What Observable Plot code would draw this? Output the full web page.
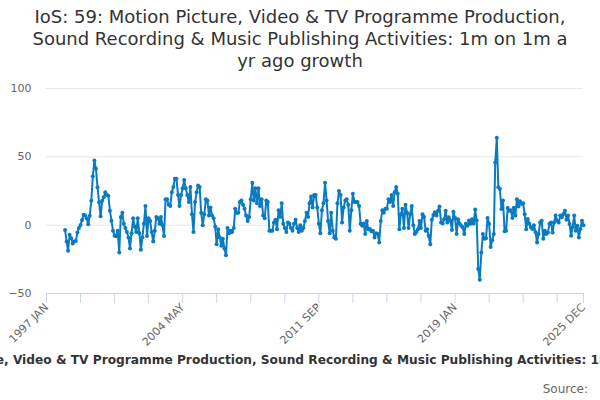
<!DOCTYPE html>
<html>
<head>
<meta charset="utf-8">
<script src="https://cdn.jsdelivr.net/npm/d3@7"></script>
<script src="https://cdn.jsdelivr.net/npm/@observablehq/plot@0.6"></script>
<style>
  body { margin: 0; overflow: hidden; background: #fff; font-family: "DejaVu Sans", sans-serif; }
  #wrap { position: relative; width: 600px; height: 400px; overflow: hidden; }
  #title { position: absolute; top: 6px; left: 0; width: 600px; text-align: center; font-size: 18px; line-height: 22px; color: #333; }
  #chart { position: absolute; top: 0; left: 0; }
  #xtitle { position: absolute; top: 353px; left: 309px; transform: translateX(-50%); white-space: nowrap; font-weight: bold; font-size: 12.2px; color: #333; }
  #source { position: absolute; top: 382px; right: 12px; font-size: 12px; color: #666; }
</style>
</head>
<body>
<div id="wrap">
  <div id="chart"></div>
  <div id="title"></div>
  <div id="xtitle"></div>
  <div id="source"></div>
</div>
<script>
const titleLines = [
  "IoS: 59: Motion Picture, Video & TV Programme Production,",
  "Sound Recording & Music Publishing Activities: 1m on 1m a",
  "yr ago growth"
];
const axisTitle = "IoS: 59: Motion Picture, Video & TV Programme Production, Sound Recording & Music Publishing Activities: 1m on 1m a yr ago growth";
const sourceText = "Source:";

// monthly series, 1998 JAN .. 2025 DEC
const firstYear = 1998;
const growth = [
  -3.5, -12, -18.7, -7.1, -9.5, -13.4, -12, -11.5, -5.4, -2, 0.2, 3.7,
  7.6, 7.1, 5.1, 0.7, 6.8, 17.9, 35.8, 47.3, 41.2, 27.8, 16.8, 6.6,
  17.9, 20.4, 24, 22, 21.6, 10.6, 3.3, -4, -7.7, -8.1, -4, -20,
  6, 9, 1, -2, -5, -9, -17, -6, 5, -1, -5, 5,
  -6, -18, -9, 1, 14, -8, 5, 3, -5, -12, -4, 6,
  5, 1, 6, 0, -8, 19, 19, 15, 14, 24, 28, 34,
  34, 22, 14, 22, 27, 33, 27, 22, 17, 28, 8, -5,
  17, 24, 29, 28, 9, 0, 8, 19, 18, 7, 13, 7,
  5, -1, -14, -3, -9, -15, -10, -17, -22, -2, -6, -4,
  -5, -2, 12, 9, 9, 17, 18, 15, 12, 7, 3, 6,
  19, 31, 18, 27, 16, 27, 14, 19, 7, 5, 18, 17,
  -4, -4, -4, 2, 4, -3, 11, 6, 16, 1, -2, -5,
  2, 1, -2, -4, 1, 4, -2, -5, 0, -4, -2, 3,
  9, 6, 16, 21, 13, 22, 22, 13, 1, -6, 11, 16,
  31, 18, 3, -6, 9, -4, -9, -10, 16, 25, 22, 2,
  13, 18, 19, 15, -4, 11, 23, 17, 17, 17, 14, 1,
  -0.4, 1.3, -6.5, 3, -3, -2.8, -4.5, -4, -9, -6, -6.5, -12.6,
  3, 11, 9, 12, 12, 19, 17, 22, 14, 24, 28, 23,
  -3, 8, 12, -2, 15, 9, -2, 8, 14, 0, -6.5, -5,
  -3, 3, -2, 8, 6, -4, -3, -8, -14, 4, 7.5, 9.4,
  7, 10.6, 13.6, 2, 1.3, 4.4, 10.6, 2, 5.8, 3.4, -3.5, 9.9,
  5.2, -6.5, 4.4, 1.3, -0.4, -1.6, -6.5, 1, -0.4, 3.4, 1, 4.4,
  1.3, 11.4, 3.4, -32, -40, -20, -6.5, -10, -9.5, 5.2, 1, -16,
  -11, -6.5, 45.8, 64, 27.7, 26.5, 11.8, 18, -4.5, -4, 12.5, 10.6,
  11, 5.2, 12.8, 7, 19, 13.6, 17.5, 15.5, 16, 8, -3, 4.5,
  1, -1.6, -2.8, 0, -5, -12.6, -6.5, 2, 3.3, -10, -4, -6.5,
  -5.3, 1, 2, -5.3, 2, 7, 3.3, 2, 7, 5.8, 8.2, 10.6,
  4, 7, 0.9, -7.7, -1.6, 7, -4, -0.4, -9, -2.8, 3.3, 0
];

const monthNames = ["JAN","FEB","MAR","APR","MAY","JUN","JUL","AUG","SEP","OCT","NOV","DEC"];
const tickLabels = ["1997 JAN", "2004 MAY", "2011 SEP", "2019 JAN", "2025 DEC"];
const yTicks = [-50, 0, 50, 100];
const gridValues = [0, 50, 100];

const data = growth.map((v, i) => ({ date: new Date(Date.UTC(firstYear, i, 1)), value: v }));
const axisStart = new Date(Date.UTC(1997, 0, 1));
const axisEnd = new Date(Date.UTC(2025, 11, 1));
const tickDates = d3.range(0, 340, 22).map(k => new Date(Date.UTC(1997, k, 1))).concat([axisEnd]);
const labelOf = d => `${d.getUTCFullYear()} ${monthNames[d.getUTCMonth()]}`;

const color = "#0a7bc1";

const chart = Plot.plot({
  width: 600,
  height: 400,
  marginTop: 88,
  marginBottom: 107,
  marginLeft: 46,
  marginRight: 17,
  style: { fontFamily: "DejaVu Sans, sans-serif", fontSize: "11px", background: "transparent", overflow: "visible" },
  x: { type: "utc", domain: [axisStart, axisEnd] },
  y: { domain: [-50, 100] },
  marks: [
    Plot.ruleY(gridValues, { stroke: "#e6e6e6", strokeWidth: 1, strokeOpacity: 1 }),
    Plot.ruleY([-50], { stroke: "#ccd6eb", strokeWidth: 1, strokeOpacity: 1 }),
    Plot.axisX({
      ticks: tickDates,
      tickFormat: d => { const s = labelOf(d); return tickLabels.includes(s) ? s : ""; },
      tickRotate: -45,
      tickSize: 10,
      tickPadding: 2,
      stroke: "#ccd6eb",
      strokeOpacity: 1,
      fill: "#666",
      label: null
    }),
    Plot.axisY({ ticks: yTicks, tickSize: 0, tickPadding: 15, fill: "#666", label: null }),
    Plot.lineY(data, { x: "date", y: "value", stroke: color, strokeWidth: 2 }),
    Plot.dot(data, { x: "date", y: "value", fill: color, r: 2 })
  ]
});
document.getElementById("chart").appendChild(chart);
document.getElementById("title").innerHTML = titleLines.map(s => s.replace(/&/g, "&amp;")).join("<br>");
document.getElementById("xtitle").textContent = axisTitle;
document.getElementById("source").textContent = sourceText;
</script>
</body>
</html>
